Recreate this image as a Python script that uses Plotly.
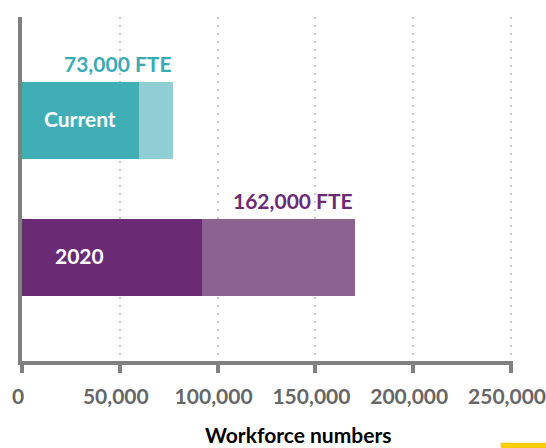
import plotly.graph_objects as go

categories = ["2020", "Current"]
base_values = [92000, 60000]
extra_values = [78000, 17000]
total_labels = ["162,000 FTE", "73,000 FTE"]
base_colors = ["#6B2A74", "#3FAEB5"]
extra_colors = ["#8B6290", "#8FCFD4"]
label_colors = ["#6B2A74", "#3AABB3"]
x_ticks = [0, 50000, 100000, 150000, 200000, 250000]
x_tick_text = ["0", "50,000", "100,000", "150,000", "200,000", "250,000"]
x_title = "Workforce numbers"

FONT = "Lato"

fig = go.Figure()
fig.add_trace(go.Bar(y=categories, x=base_values, orientation="h",
                     marker=dict(color=base_colors, line=dict(width=0)),
                     width=0.56, hoverinfo="skip"))
fig.add_trace(go.Bar(y=categories, x=extra_values, orientation="h",
                     marker=dict(color=extra_colors, line=dict(width=0)),
                     width=0.56, hoverinfo="skip"))

annotations = []
for i, (cat, b, e, lab, col) in enumerate(zip(categories, base_values, extra_values, total_labels, label_colors)):
    annotations.append(dict(x=b + e, y=i, xref="x", yref="y", text=lab,
                            showarrow=False, xanchor="right", yanchor="middle",
                            yshift=57, font=dict(family=FONT, size=21, color=col, weight="bold")))
    annotations.append(dict(x=0.118, y=i, xref="paper", yref="y", text=cat,
                            showarrow=False, xanchor="center", yanchor="middle",
                            yshift=2, font=dict(family=FONT, size=21, color="white", weight="bold")))
annotations.append(dict(x=0.368, y=-0.214, xref="paper", yref="paper", text=x_title,
                        showarrow=False, xanchor="left", yanchor="middle",
                        font=dict(family=FONT, size=21, color="black", weight="bold")))

fig.update_layout(
    barmode="stack",
    width=546, height=448,
    margin=dict(l=22, r=33, t=17, b=87),
    paper_bgcolor="white", plot_bgcolor="white",
    showlegend=False,
    annotations=annotations,
    font=dict(family=FONT),
    shapes=[dict(type="rect", xref="paper", yref="paper",
                 x0=0.975, x1=1.08, y0=-0.26, y1=-0.2375,
                 fillcolor="#FFCC00", line=dict(width=0))],
)
fig.update_xaxes(range=[0, 251000], tickvals=x_ticks, ticktext=x_tick_text,
                 showgrid=True, gridcolor="#c8c8c8", gridwidth=2, griddash="2px,6px",
                 zeroline=False, showline=True, linecolor="#808080", linewidth=4,
                 ticks="outside", ticklen=8, tickwidth=4, tickcolor="#808080",
                 tickfont=dict(family=FONT, size=21, color="#666666", weight="bold"),
                 ticklabeloverflow="allow", ticklabelstandoff=6, ticklabelshift=-4,
                 automargin=False, fixedrange=True)
fig.update_yaxes(type="category", categoryorder="array", categoryarray=categories,
                 range=[-0.75, 1.75], showgrid=False, zeroline=False,
                 showline=True, linecolor="#808080", linewidth=4,
                 showticklabels=False, ticks="", automargin=False, fixedrange=True)

fig.write_html("out.html", config={"displayModeBar": False},
               post_script="document.body.style.margin='0';document.body.style.padding='0';")
